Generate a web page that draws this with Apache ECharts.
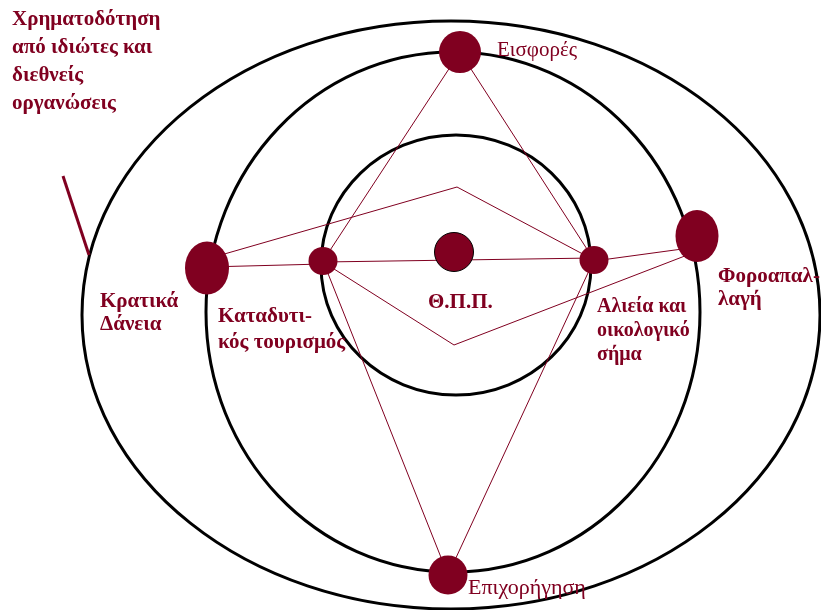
<!DOCTYPE html>
<html>
<head>
<meta charset="utf-8">
<script src="https://cdn.jsdelivr.net/npm/echarts@6/dist/echarts.min.js"></script>
<style>html,body{margin:0;padding:0;background:#fff}#c{width:821px;height:610px}</style>
</head>
<body>
<div id="c"></div>
<script>
// Rings: [centerX, centerY, radiusX, radiusY]
const ringCX = [451, 453, 456];
const ringCY = [315, 312, 265];
const ringRX = [369, 247, 135];
const ringRY = [294, 260, 130];

// Nodes
const nodeNames = ['Εισφορές', 'Θ.Π.Π.', 'Καταδυτικός τουρισμός', 'Αλιεία και οικολογικό σήμα', 'Κρατικά Δάνεια', 'Φοροαπαλλαγή', 'Επιχορήγηση'];
const nodeX = [460, 454, 323, 594, 207, 697, 448];
const nodeY = [52, 252, 261, 260, 268, 236, 575];
const nodeW = [42, 39, 29, 29, 44, 43, 39];
const nodeH = [42, 39, 28, 28, 53, 52, 39];

// Connection polylines
const edges = [
  [[460, 52], [323, 261]],
  [[460, 52], [594, 260]],
  [[448, 575], [323, 261]],
  [[448, 575], [594, 260]],
  [[207, 267], [323, 264]],
  [[207, 259], [457, 187], [594, 260]],
  [[323, 262], [454, 345], [690, 254]],
  [[323, 262], [594, 258]],
  [[594, 261], [697, 247]]
];
const pointer = [[63, 176], [89, 255]];

// Labels: text, x, y (top), bold
const labelTexts = ['Χρηματοδότηση\nαπό ιδιώτες και\nδιεθνείς\nοργανώσεις', 'Εισφορές', 'Κρατικά\nΔάνεια', 'Καταδυτι-\nκός τουρισμός', 'Θ.Π.Π.', 'Αλιεία και\nοικολογικό\nσήμα', 'Φοροαπαλ-\nλαγή', 'Επιχορήγηση'];
const labelX = [12, 497, 100, 218, 428, 597, 718, 468];
const labelY = [6, 38, 290, 304, 291, 295, 265, 576];
const labelLH = [28, 24, 23, 26, 24, 24, 23, 24];
const labelSize = [21, 21, 21, 21, 21, 20, 21, 22];
const labelBold = [true, false, true, true, true, true, true, false];

const RED = '#800020';
const chart = echarts.init(document.getElementById('c'), null, {renderer: 'canvas'});

const series = [];
series.push({
  type: 'custom',
  coordinateSystem: 'cartesian2d',
  silent: true,
  z: 1,
  data: ringCX.map((x, i) => [x, ringCY[i], ringRX[i], ringRY[i]]),
  renderItem: function (params, api) {
    const c = api.coord([api.value(0), api.value(1)]);
    const s = api.size([api.value(2), api.value(3)]);
    return {
      type: 'ellipse',
      shape: {cx: c[0], cy: c[1], rx: s[0], ry: s[1]},
      style: {fill: 'none', stroke: '#000', lineWidth: 3}
    };
  }
});
edges.forEach(e => {
  series.push({
    type: 'line', data: e, symbol: 'none', silent: true, z: 2,
    lineStyle: {color: RED, width: 1}, animation: false
  });
});
series.push({
  type: 'line', data: pointer, symbol: 'none', silent: true, z: 2,
  lineStyle: {color: RED, width: 3}, animation: false
});
series.push({
  type: 'scatter', z: 3, silent: true,
  data: nodeX.map((x, i) => ({
    name: nodeNames[i], value: [x, nodeY[i]],
    symbolSize: [nodeW[i], nodeH[i]],
    itemStyle: i === 1 ? {color: RED, borderColor: '#000', borderWidth: 1} : {color: RED, borderWidth: 0}
  })),
  symbol: 'circle', itemStyle: {opacity: 1}
});
series.push({
  type: 'custom', coordinateSystem: 'cartesian2d', silent: true, z: 4,
  data: labelX.map((x, i) => [x, labelY[i], i]),
  renderItem: function (params, api) {
    const i = api.value(2);
    const c = api.coord([api.value(0), api.value(1)]);
    return {
      type: 'text',
      x: c[0], y: c[1],
      style: {
        text: labelTexts[i],
        fill: RED,
        font: (labelBold[i] ? 'bold ' : '') + labelSize[i] + 'px "Liberation Serif", "DejaVu Serif", serif',
        lineHeight: labelLH[i],
        align: 'left',
        verticalAlign: 'top'
      }
    };
  }
});

chart.setOption({
  animation: false,
  backgroundColor: '#fff',
  grid: {left: 0, right: 0, top: 0, bottom: 0},
  xAxis: {type: 'value', min: 0, max: 821, show: false},
  yAxis: {type: 'value', min: 0, max: 610, inverse: true, show: false},
  series: series
});
</script>
</body>
</html>
